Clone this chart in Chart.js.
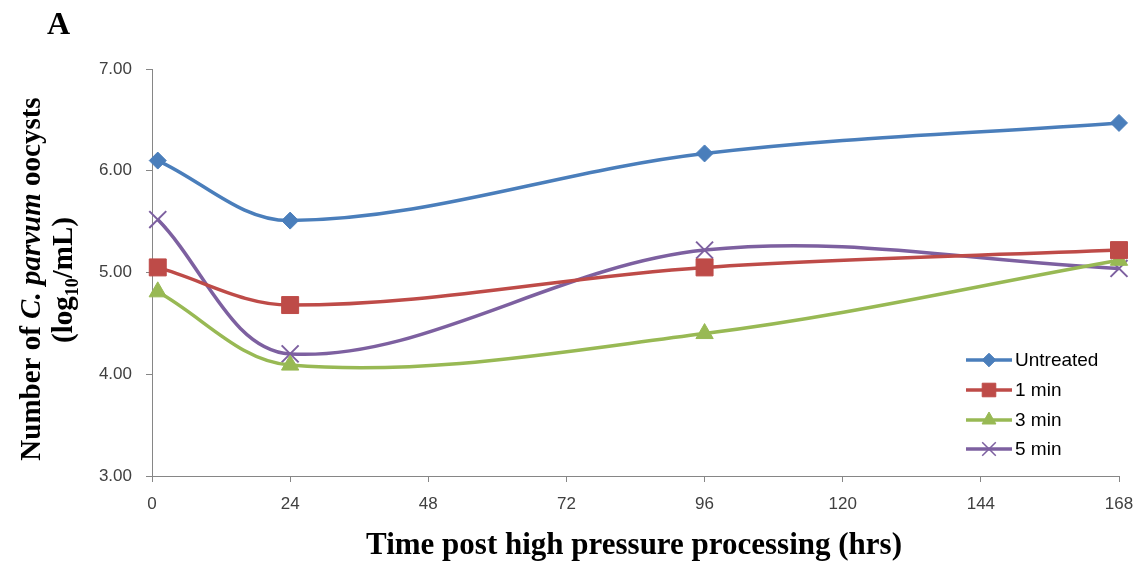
<!DOCTYPE html>
<html lang="en">
<head>
    <meta charset="UTF-8">
    <title>C. parvum oocysts after HPP</title>
    <script src="https://cdn.jsdelivr.net/npm/chart.js"></script>
    <style>
        html, body { margin: 0; padding: 0; background: #fff; }
        #wrap { width: 1143px; height: 565px; position: relative; }
    </style>
</head>
<body>
<div id="wrap"><canvas id="myChart" width="1143" height="565"></canvas></div>
<script>
    // hours after processing (first point sits just right of 0)
    var hours = [1, 24, 96, 168];
    var untreated = [6.10, 5.51, 6.17, 6.47];
    var min1 = [5.05, 4.68, 5.05, 5.22];
    var min3 = [4.81, 4.09, 4.40, 5.12];
    var min5 = [5.52, 4.20, 5.22, 5.04];
    var xTicks = [0, 24, 48, 72, 96, 120, 144, 168];
    var yTicks = [3, 4, 5, 6, 7];

    var seriesNames = ['Untreated', '1 min', '3 min', '5 min'];
    var seriesColors = ['#4a7ebb', '#be4b48', '#98b954', '#7d60a0'];
    var seriesPoints = ['rectRot', 'rect', 'triangle', 'crossRot'];
    var seriesRadius = [8.5, 12, 10, 12];
    var seriesValues = [untreated, min1, min3, min5];

    function toXY(vals) {
        return vals.map(function (v, i) { return { x: hours[i], y: v }; });
    }

    var datasets = seriesNames.map(function (name, i) {
        return {
            label: name,
            data: toXY(seriesValues[i]),
            borderColor: seriesColors[i],
            backgroundColor: seriesColors[i],
            pointBackgroundColor: seriesColors[i],
            pointBorderColor: seriesColors[i],
            pointStyle: seriesPoints[i],
            pointRadius: seriesRadius[i],
            pointBorderWidth: seriesPoints[i] == 'crossRot' ? 2 : 1,
            borderWidth: 3.5,
            tension: 0.35,
            clip: false,
            fill: false
        };
    });

    var tickFont = { family: 'Liberation Sans', size: 17 };

    // draw the "A", the axis titles (mixed italic/subscript) and the legend box
    var decorations = {
        id: 'decorations',
        afterDraw: function (chart) {
            var ctx = chart.ctx;
            ctx.save();
            ctx.fillStyle = '#000';
            ctx.textBaseline = 'alphabetic';

            ctx.font = 'bold 32px "Liberation Serif"';
            ctx.textAlign = 'left';
            ctx.fillText('A', 47, 34);

            ctx.font = 'bold 31px "Liberation Serif"';
            ctx.textAlign = 'center';
            ctx.fillText('Time post high pressure processing (hrs)', 634, 554);

            // y title, rotated
            var bold = 'bold 29px "Liberation Serif"';
            var boldIt = 'italic bold 29px "Liberation Serif"';
            var sub = 'bold 18px "Liberation Serif"';
            var line1 = [['Number of ', bold, 0], ['C. parvum', boldIt, 0], [' oocysts', bold, 0]];
            var line2 = [['(log', bold, 0], ['10', sub, 6], ['/mL)', bold, 0]];
            function drawRich(parts, cx, cy) {
                var total = 0;
                parts.forEach(function (p) { ctx.font = p[1]; total += ctx.measureText(p[0]).width; });
                ctx.save();
                ctx.translate(cx, cy);
                ctx.rotate(-Math.PI / 2);
                var x = -total / 2;
                ctx.textAlign = 'left';
                parts.forEach(function (p) {
                    ctx.font = p[1];
                    ctx.fillText(p[0], x, p[2]);
                    x += ctx.measureText(p[0]).width;
                });
                ctx.restore();
            }
            drawRich(line1, 40, 279);
            drawRich(line2, 72, 280);

            // legend
            var rowY = [360, 390, 420, 449];
            seriesNames.forEach(function (name, i) {
                var y = rowY[i];
                ctx.strokeStyle = seriesColors[i];
                ctx.lineWidth = 3.5;
                ctx.beginPath();
                ctx.moveTo(966, y);
                ctx.lineTo(1012, y);
                ctx.stroke();
                ctx.fillStyle = seriesColors[i];
                ctx.lineWidth = seriesPoints[i] == 'crossRot' ? 1.5 : 1;
                Chart.helpers.drawPoint(ctx, {
                    pointStyle: seriesPoints[i],
                    radius: seriesRadius[i] * 0.8,
                    rotation: 0,
                    borderWidth: 1
                }, 989, y);
                ctx.fillStyle = '#000';
                ctx.font = '19px "Liberation Sans"';
                ctx.textAlign = 'left';
                ctx.textBaseline = 'middle';
                ctx.fillText(name, 1015, y + 1);
            });
            ctx.restore();
        }
    };

    var ctx = document.getElementById('myChart').getContext('2d');
    var myChart = new Chart(ctx, {
        type: 'line',
        data: { datasets: datasets },
        options: {
            responsive: false,
            animation: false,
            layout: { padding: { top: 69, right: 24, left: 0, bottom: 0 } },
            plugins: {
                legend: { display: false },
                tooltip: { enabled: false }
            },
            scales: {
                x: {
                    type: 'linear',
                    min: 0,
                    max: 168,
                    afterBuildTicks: function (scale) {
                        scale.ticks = xTicks.map(function (v) { return { value: v }; });
                    },
                    afterFit: function (scale) {
                        scale.height = 89;
                        scale.paddingRight = 0;
                        scale.paddingLeft = 0;
                    },
                    border: { display: true, color: '#868686', width: 1 },
                    grid: { drawOnChartArea: false, drawTicks: true, tickLength: 6, color: '#868686' },
                    ticks: { color: '#404040', font: tickFont, padding: 12, maxRotation: 0 }
                },
                y: {
                    min: 3,
                    max: 7,
                    afterBuildTicks: function (scale) {
                        scale.ticks = yTicks.map(function (v) { return { value: v }; });
                    },
                    afterFit: function (scale) { scale.width = 152; },
                    border: { display: true, color: '#868686', width: 1 },
                    grid: { drawOnChartArea: false, drawTicks: true, tickLength: 6, color: '#868686' },
                    ticks: {
                        color: '#404040',
                        font: tickFont,
                        padding: 14,
                        callback: function (v) { return v.toFixed(2); }
                    }
                }
            }
        },
        plugins: [decorations]
    });
</script>
</body>
</html>
